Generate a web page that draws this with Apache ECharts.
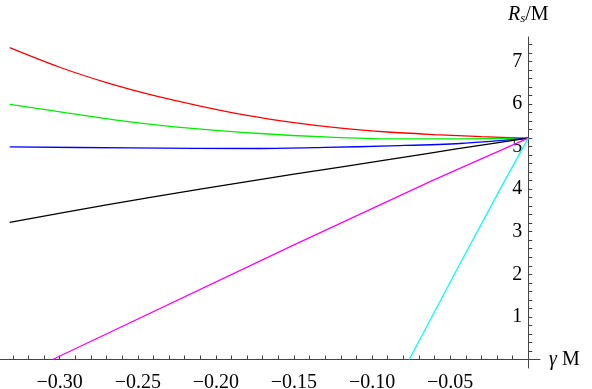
<!doctype html>
<html>
    <head>
        <meta charset="utf-8">
        <title>Rs vs gamma</title>
        <style>
            html, body { margin: 0; padding: 0; background: #fff; }
            #main { width: 592px; height: 389px; }
        </style>
    </head>
    <body>
        <div id="main"></div>
        <script src="https://cdn.jsdelivr.net/npm/echarts@6/dist/echarts.min.js"></script>
        <script>
            // values
            var gammaRed = [-0.332, -0.30, -0.27, -0.24, -0.21, -0.18, -0.15, -0.12, -0.09, -0.06, -0.03, 0];
            var rsRed = [7.32, 6.86, 6.50, 6.20, 5.95, 5.73, 5.56, 5.43, 5.34, 5.28, 5.23, 5.196];

            var gammaGreen = [-0.332, -0.2955, -0.255, -0.2134, -0.1718, -0.13, -0.0886, -0.0437, 0];
            var rsGreen = [5.99, 5.79, 5.58, 5.42, 5.305, 5.225, 5.18, 5.18, 5.196];

            var gammaBlue = [-0.332, -0.255, -0.1718, -0.13, -0.0886, -0.0437, 0];
            var rsBlue = [4.99, 4.967, 4.953, 4.977, 5.014, 5.07, 5.196];

            var gammaBlack = [-0.332, -0.27, -0.21, -0.15, -0.0886, -0.045, 0];
            var rsBlack = [3.22, 3.63, 4.00, 4.35, 4.695, 4.95, 5.196];

            var gammaMagenta = [-0.3045, -0.15, -0.0608, 0];
            var rsMagenta = [0, 2.69, 4.21, 5.196];

            var gammaCyan = [-0.0762, -0.045, -0.0149, 0];
            var rsCyan = [0, 2.16, 4.21, 5.196];

            var xLabels = [-0.30, -0.25, -0.20, -0.15, -0.10, -0.05];
            var yLabels = [1, 2, 3, 4, 5, 6, 7];

            var xTicks = [];
            for (var i = -33; i <= -1; i++) xTicks.push(i / 100);
            var yTicks = [];
            for (var j = 1; j <= 37; j++) yTicks.push(j / 5);

            function pairs(xs, ys) {
                return xs.map(function (x, k) { return [x, ys[k]]; });
            }

            function line(xs, ys, color, smooth) {
                return {
                    type: 'line',
                    data: pairs(xs, ys),
                    showSymbol: false,
                    smooth: smooth,
                    lineStyle: { color: color, width: 1.3 },
                    z: 3
                };
            }

            var serif = '"Liberation Serif", "DejaVu Serif", serif';
            var chart = echarts.init(document.getElementById('main'));

            chart.setOption({
                animation: false,
                backgroundColor: '#fff',
                grid: { left: 0, right: 52, top: 37, bottom: 21, outerBoundsMode: 'none', containLabel: false },
                xAxis: {
                    type: 'value',
                    min: -0.3382,
                    max: 0.0075,
                    splitLine: { show: false },
                    axisLine: { onZero: true, lineStyle: { color: '#444', width: 1 } },
                    axisTick: { inside: true, length: 4, customValues: xTicks, lineStyle: { color: '#444' } },
                    axisLabel: {
                        customValues: xLabels,
                        margin: 5,
                        color: '#000',
                        fontFamily: serif,
                        fontSize: 20,
                        formatter: function (v) { return v.toFixed(2).replace('-', '\u2212'); }
                    },
                    name: '{i|\u03b3} M',
                    nameLocation: 'end',
                    nameGap: 9,
                    nameTextStyle: {
                        color: '#000', fontFamily: serif, fontSize: 20,
                        rich: { i: { fontFamily: serif, fontStyle: 'italic', fontSize: 20, color: '#000' } }
                    }
                },
                yAxis: {
                    type: 'value',
                    position: 'right',
                    offset: -11.7,
                    min: -0.2,
                    max: 7.57,
                    splitLine: { show: false },
                    axisLine: { onZero: false, lineStyle: { color: '#444', width: 1 } },
                    axisTick: { inside: false, length: 4, customValues: yTicks, lineStyle: { color: '#444' } },
                    axisLabel: {
                        inside: true,
                        customValues: yLabels,
                        margin: 6,
                        color: '#000',
                        fontFamily: serif,
                        fontSize: 20
                    },
                    name: '{i|R}{s|s}/M',
                    nameLocation: 'end',
                    nameGap: 12,
                    nameTextStyle: {
                        color: '#000', fontFamily: serif, fontSize: 20, align: 'center',
                        rich: {
                            i: { fontFamily: serif, fontStyle: 'italic', fontSize: 20, color: '#000' },
                            s: { fontFamily: serif, fontStyle: 'italic', fontSize: 13, color: '#000', verticalAlign: 'bottom', padding: [8, 0, 0, 0] }
                        }
                    }
                },
                series: [
                    line(gammaRed, rsRed, '#ff0000', 0.3),
                    line(gammaGreen, rsGreen, '#00ee00', 0.3),
                    line(gammaBlue, rsBlue, '#0000ff', 0.3),
                    line(gammaBlack, rsBlack, '#000000', 0.3),
                    line(gammaMagenta, rsMagenta, '#ff00ff', false),
                    line(gammaCyan, rsCyan, '#00ffff', false)
                ]
            });

            window.onresize = chart.resize;
        </script>
    </body>
</html>
